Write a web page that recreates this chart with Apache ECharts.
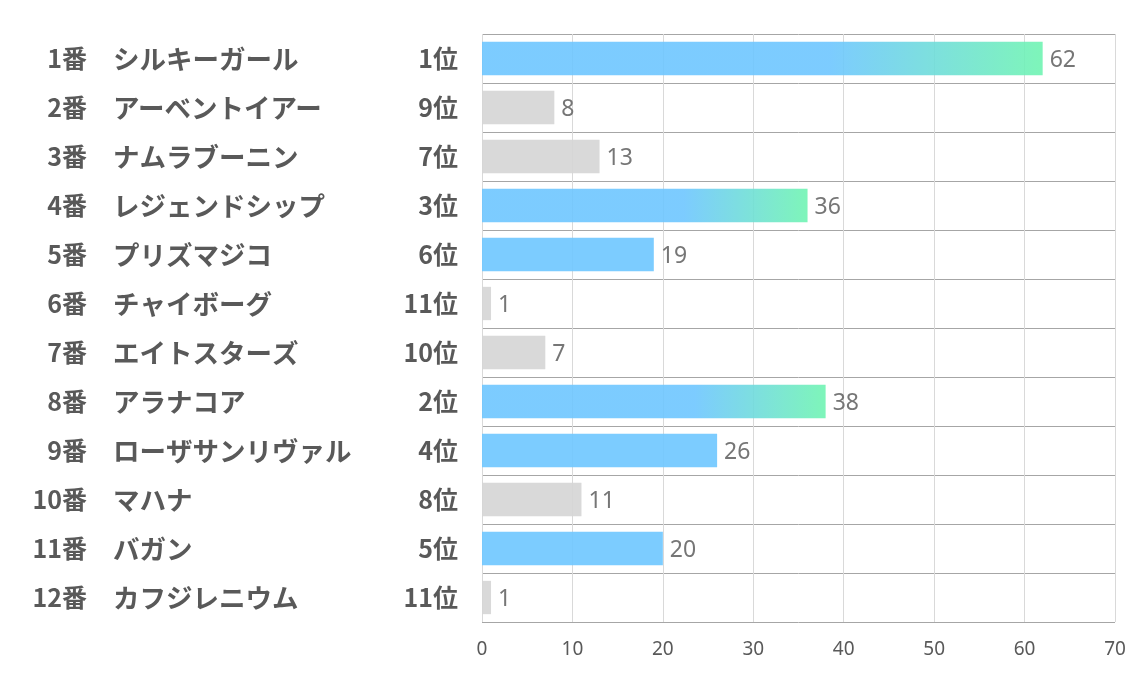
<!DOCTYPE html>
<html>
<head>
    <meta charset="utf-8">
    <script src="https://cdn.jsdelivr.net/npm/echarts@6/dist/echarts.min.js"></script>
</head>
<body style="margin:0">
    <div id="main" style="width:1134px;height:680px;"></div>
    <script type="text/javascript">
        // 馬番・馬名・順位・値
        var nums = ['1番', '2番', '3番', '4番', '5番', '6番', '7番', '8番', '9番', '10番', '11番', '12番'];
        var names = ['シルキーガール', 'アーベントイアー', 'ナムラブーニン', 'レジェンドシップ', 'プリズマジコ', 'チャイボーグ',
            'エイトスターズ', 'アラナコア', 'ローザサンリヴァル', 'マハナ', 'バガン', 'カフジレニウム'];
        var ranks = [1, 9, 7, 3, 6, 11, 10, 2, 4, 8, 5, 11];
        var values = [62, 8, 13, 36, 19, 1, 7, 38, 26, 11, 20, 1];
        var ticks = [0, 10, 20, 30, 40, 50, 60, 70];

        var myChart = echarts.init(document.getElementById('main'));

        var blue = 'rgba(110,198,255,0.9)';
        var green = 'rgba(112,244,178,0.9)';
        var grey = 'rgba(213,213,213,0.9)';

        var data = values.map(function (v, i) {
            var r = ranks[i];
            var color = grey;
            if (r <= 3) {
                color = new echarts.graphic.LinearGradient(0, 0, 1, 0, [
                    { offset: 0, color: blue },
                    { offset: 0.62, color: blue },
                    { offset: 1, color: green }
                ]);
            } else if (r <= 6) {
                color = blue;
            }
            return { value: v, itemStyle: { color: color } };
        });

        var labelFont = '"Noto Sans CJK JP", "Noto Sans", sans-serif';
        var idx = names.map(function (n, i) { return i; });

        // 左側の3列は別々のカテゴリ軸で描く
        function labelAxis(margin, align, fmt, splitShow, size) {
            return {
                type: 'category',
                position: 'left',
                offset: 0,
                inverse: true,
                data: idx,
                axisLine: { show: false },
                axisTick: { show: false },
                splitLine: { show: splitShow, interval: 0, lineStyle: { color: '#a6a6a6', width: 1 } },
                axisLabel: {
                    margin: margin,
                    align: align,
                    interval: 0,
                    fontSize: size,
                    fontWeight: 'bold',
                    color: '#595959',
                    fontFamily: labelFont,
                    formatter: fmt
                }
            };
        }

        option = {
            animation: false,
            grid: { left: 482, right: 19, top: 34, bottom: 58, outerBoundsMode: 'none' },
            xAxis: {
                type: 'value',
                min: ticks[0],
                max: ticks[ticks.length - 1],
                interval: 10,
                axisLine: { show: false },
                axisTick: { show: false },
                axisLabel: { color: '#595959', fontSize: 19, margin: 18, fontFamily: '"Noto Sans", sans-serif' },
                splitLine: { lineStyle: { color: '#d9d9d9', width: 1 } }
            },
            yAxis: [
                labelAxis(24, 'right', function (i) { return ranks[+i] + '位'; }, true, 25),
                labelAxis(369, 'left', function (i) { return names[+i]; }, false, 26.5),
                labelAxis(395, 'right', function (i) { return nums[+i]; }, false, 25)
            ],
            series: [
                {
                    type: 'bar',
                    data: data,
                    barWidth: '68%',
                    label: {
                        show: true,
                        position: 'right',
                        distance: 7,
                        offset: [0, 2],
                        color: '#767676',
                        fontSize: 23,
                        fontFamily: '"Noto Sans", sans-serif'
                    }
                }
            ]
        };

        myChart.setOption(option);
    </script>
</body>
</html>
